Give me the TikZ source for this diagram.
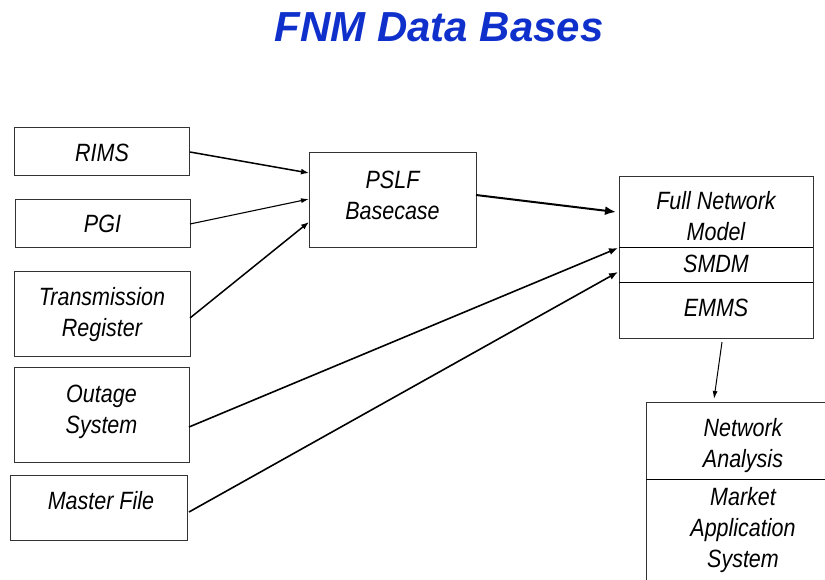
\documentclass[tikz,border=0pt]{standalone}
\usepackage{fontspec}
\setmainfont{Liberation Sans}
\newfontfamily\boxfont[FakeStretch=0.86]{Liberation Sans}
\usetikzlibrary{arrows.meta}
\definecolor{titleblue}{RGB}{16,48,204}
\tikzset{
  box/.style={draw=black!80, line width=0.8pt, inner sep=0pt, align=center,
    font=\boxfont\itshape\fontsize{25}{31}\selectfont},
  lbl/.style={inner sep=0pt, align=center, font=\boxfont\itshape\fontsize{25}{31}\selectfont},
  conn/.style={line width=1.6pt, -{Latex[length=9pt,width=7pt]}},
  thinconn/.style={line width=1pt, -{Latex[length=8pt,width=5pt]}},
}
\begin{document}
\begin{tikzpicture}[x=1pt,y=-1pt]
\useasboundingbox (0,0) rectangle (825,579);
\clip (0,0) rectangle (825,579);
\node[font=\bfseries\itshape\fontsize{42}{46}\selectfont, text=titleblue] (title) at (439,27) {FNM Data Bases};

\node[box, minimum width=175pt, minimum height=48pt] (rims) at (102,151) {};
\node[lbl] (rimst) at (102,153) {RIMS};
\node[box, minimum width=175pt, minimum height=48pt] (pgi) at (102.5,223) {};
\node[lbl] (pgit) at (102.5,224) {PGI};
\node[box, minimum width=176pt, minimum height=85pt] (trans) at (102,313.5) {};
\node[lbl] (transt) at (102,315) {Transmission\\Register};
\node[box, minimum width=175pt, minimum height=95pt] (outage) at (101.5,414.5) {};
\node[lbl] (outaget) at (101.5,411.5) {Outage\\System};
\node[box, minimum width=177pt, minimum height=65pt] (master) at (98.5,507.5) {};
\node[lbl] (mastert) at (101,501) {Master File};
\node[box, minimum width=167pt, minimum height=95pt] (pslf) at (392.5,199.5) {};
\node[lbl] (pslft) at (392.5,195) {PSLF\\Basecase};

% Full network model box
\node[box, minimum width=194pt, minimum height=162pt] (fnm) at (716,257) {};
\coordinate (fnmdl1) at (619,247); \coordinate (fnmdr1) at (813,247);
\coordinate (fnmdl2) at (619,282); \coordinate (fnmdr2) at (813,282);
\draw[line width=0.8pt] (fnmdl1) -- (fnmdr1);
\draw[line width=0.8pt] (fnmdl2) -- (fnmdr2);
\node[lbl] (fnmt) at (716,216) {Full Network\\Model};
\node[lbl] (smdm) at (716,264) {SMDM};
\node[lbl] (emms) at (716,308) {EMMS};

% Network analysis box (runs off the page)
\node[box, minimum width=200pt, minimum height=210pt, anchor=north west] (na) at (646,402) {};
\coordinate (nadl) at (646,479); \coordinate (nadr) at (846,479);
\draw[line width=0.8pt] (nadl) -- (nadr);
\node[lbl] (nat) at (743,446) {Network\\Analysis};
\node[lbl] (mas) at (743,530) {Market\\Application\\System};

% connectors
\coordinate (rimsE) at (190,152);
\coordinate (pslfA) at (309,173);
\draw[line width=1.5pt, -{Latex[length=8pt,width=6pt]}] (rimsE) -- (pslfA);
\coordinate (pgiE) at (190,224);
\coordinate (pslfB) at (309,199);
\draw[line width=1.1pt, -{Latex[length=8pt,width=5pt]}] (pgiE) -- (pslfB);
\coordinate (transE) at (190,318);
\coordinate (pslfC) at (309,222);
\draw[line width=1.5pt, -{Latex[length=8pt,width=6pt]}] (transE) -- (pslfC);
\coordinate (pslfE) at (476,195);
\coordinate (fnmA) at (616,212);
\draw[line width=2pt, -{Latex[length=11pt,width=9pt]}] (pslfE) -- (fnmA);
\coordinate (outE) at (189,427);
\coordinate (fnmB) at (618,248);
\draw[conn] (outE) -- (fnmB);
\coordinate (masE) at (189,512);
\coordinate (fnmC) at (618,272);
\draw[conn] (masE) -- (fnmC);
\coordinate (fnmS) at (722,342);
\coordinate (naN) at (714,399);
\draw[thinconn] (fnmS) -- (naN);
\end{tikzpicture}
\end{document}
